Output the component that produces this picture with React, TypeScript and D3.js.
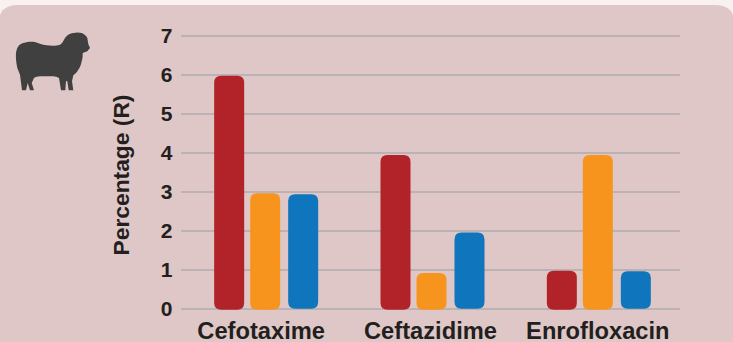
import React from "react";
import * as d3 from "d3";

const categories = ["Cefotaxime", "Ceftazidime", "Enrofloxacin"];
const seriesNames = ["first", "second", "third"];
const firstValues = [5.98, 3.95, 0.98];
const secondValues = [2.97, 0.92, 3.95];
const thirdValues = [2.94, 1.96, 0.97];
const yTicks = [0, 1, 2, 3, 4, 5, 6, 7];
const seriesColors = ["#b12328", "#f7941d", "#0f75bc"];

const WIDTH = 733;
const HEIGHT = 342;
const FONT = "'Liberation Sans', Arial, sans-serif";
const INK = "#231f20";

const x = d3.scaleBand<string>().domain(categories).range([181, 680]);
const y = d3.scaleLinear().domain([0, 7]).range([309, 36]);
const seriesOffset = d3.scaleOrdinal<string, number>().domain(seriesNames).range([-50, -14, 24]);
const seriesFill = d3.scaleOrdinal<string, string>().domain(seriesNames).range(seriesColors);
const labelShift = d3.scaleOrdinal<string, number>().domain(categories).range([-3, 0, 1]);
const seriesValues = [firstValues, secondValues, thirdValues];
const BAR_W = 30;
const R = 7;

// Bar outline with rounded corners at all four ends.
function barPath(left: number, top: number, bottom: number) {
  const p = d3.path();
  const r = Math.min(R, (bottom - top) / 2);
  p.moveTo(left + r, top);
  p.lineTo(left + BAR_W - r, top);
  p.quadraticCurveTo(left + BAR_W, top, left + BAR_W, top + r);
  p.lineTo(left + BAR_W, bottom - r);
  p.quadraticCurveTo(left + BAR_W, bottom, left + BAR_W - r, bottom);
  p.lineTo(left + r, bottom);
  p.quadraticCurveTo(left, bottom, left, bottom - r);
  p.lineTo(left, top + r);
  p.quadraticCurveTo(left, top, left + r, top);
  p.closePath();
  return p.toString();
}

// Sheep silhouette in the panel's top-left corner.
const SHEEP =
  "M16 53 C17 47 19 44 23.3 43 C28 41.5 31 41.5 35 42 C39 43 42 45 46.7 45.3 C51 45.8 56 46 60 44.7 C63 43 63.5 40 65 38 C67 35 70 33.5 73.3 33 C76 32.3 79 32.3 81.7 33 C84.5 34 86.5 36 87.3 38 L88.3 44 L90 48 L87.3 51.3 L82.7 53 C82.8 56 82.5 59 81.7 61.3 C81 65 80 67.5 78.3 69.7 C77 72 75 74 73.3 75.3 L72 81.3 L73.3 90.3 L68.7 90.3 L67.3 81.3 L66 81 L65.3 90.3 L61 90.3 L59 78 C57 77 55 76.5 53.3 76.3 L40 76.3 C37.5 76.5 35.5 77 34 78 L31.7 83 L34 90.3 L30 90.3 L27.7 83 L26 90.3 L22 90.3 L20 74.7 C18.5 71 17 68 16.7 64.7 C16 60 15.7 57 16 53 Z";

export default function App() {
  return (
    <svg
      width={WIDTH}
      height={HEIGHT}
      viewBox={`0 0 ${WIDTH} ${HEIGHT}`}
      style={{ position: "absolute", left: 0, top: 0, display: "block" }}
    >
      <rect width={WIDTH} height={HEIGHT} fill="#f9f1ef" />
      <path
        d={`M0 17 A17 12 0 0 1 17 5 L${WIDTH - 17} 5 A17 12 0 0 1 ${WIDTH} 17 L${WIDTH} ${HEIGHT} L0 ${HEIGHT} Z`}
        fill="#dec7c6"
      />
      <path d={SHEEP} fill="#404041" />

      {yTicks.map((t) => (
        <g key={t}>
          <line x1={181} x2={680} y1={y(t)} y2={y(t)} stroke="#aeabae" strokeWidth={1.5} />
          <text
            x={172.5}
            y={y(t) + 6.5}
            textAnchor="end"
            fontFamily={FONT}
            fontWeight={700}
            fontSize={21}
            fill={INK}
          >
            {t}
          </text>
        </g>
      ))}

      {categories.map((c, ci) =>
        seriesNames.map((s, si) => {
          const left = x(c)! + x.bandwidth() / 2 + seriesOffset(s);
          const bottom = si === 2 ? y(0) - 0.3 : y(0) + 0.7;
          return <path key={c + s} d={barPath(left, y(seriesValues[si][ci]), bottom)} fill={seriesFill(s)} />;
        })
      )}

      {categories.map((c) => (
        <text
          key={c}
          x={x(c)! + x.bandwidth() / 2 + labelShift(c)}
          y={339}
          textAnchor="middle"
          fontFamily={FONT}
          fontWeight={700}
          fontSize={23.7}
          fill={INK}
        >
          {c}
        </text>
      ))}

      <text
        transform="translate(128.5,175) rotate(-90)"
        textAnchor="middle"
        fontFamily={FONT}
        fontWeight={700}
        fontSize={22.8}
        fill={INK}
      >
        Percentage (R)
      </text>
    </svg>
  );
}
